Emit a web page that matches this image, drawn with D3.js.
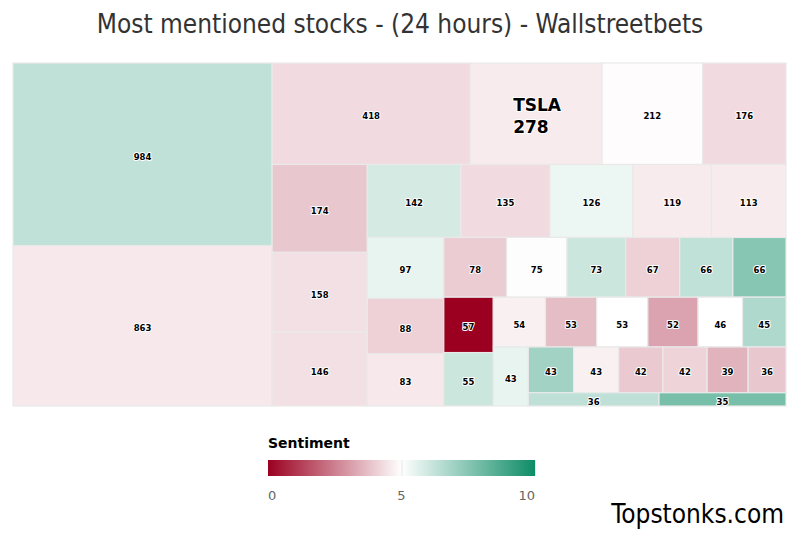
<!DOCTYPE html>
<html>
<head>
<meta charset="utf-8">
<script src="https://cdn.jsdelivr.net/npm/d3@7"></script>
<style>
  html, body { margin: 0; padding: 0; background: #fff; }
  svg { display: block; }
</style>
</head>
<body>
<svg id="chart" width="800" height="533"></svg>
<script>
// ---- data ----
const mentions  = [984, 863, 418, 278, 212, 176, 174, 158, 146, 142, 135, 126, 119, 113,
                   97, 88, 83, 78, 75, 73, 67, 66, 66, 57, 55, 54, 53, 53, 52, 46, 45,
                   43, 43, 43, 42, 42, 39, 36, 36, 35];
const sentiment = [6.3, 4.55, 4.3, 4.6, 4.95, 4.3, 3.9, 4.4, 4.4, 5.9, 4.3, 5.4, 4.6, 4.6,
                   5.5, 4.1, 4.55, 4.0, 4.97, 6.1, 4.1, 6.3, 7.5, 0.0, 6.1, 4.7, 3.7, 5.0, 3.2, 5.0, 6.65,
                   5.5, 6.95, 4.7, 3.95, 4.15, 3.5, 3.9, 6.35, 7.8];
const tickers   = ["", "", "", "TSLA"];
const legendTicks = [0, 5, 10];
const titleText = "Most mentioned stocks - (24 hours) - Wallstreetbets";
const legendTitle = "Sentiment";
const creditText = "Topstonks.com";

// ---- layout ----
const svg = d3.select("#chart");
const plot = { x: 13, y: 63, w: 773, h: 343 };

const color = d3.scaleLinear().domain([0, 5, 10]).range(["#9b0020", "#ffffff", "#0e8c66"]);

// Highcharts-like "squarified" (low aspect ratio, alternating direction) tiling
function hcSquarified(parent, x0, y0, x1, y1) {
  const children = parent.children;
  const W = x1 - x0, H = y1 - y0;
  const total = d3.sum(children, c => c.value);
  const plotPos = { x: x0, y: y0 };
  const ar = (w, h) => Math.max(w / h, h / w);
  const g = { height: H, width: W, direction: 0, total: 0, nW: 0, lW: 0, nH: 0, lH: 0, elArr: [],
              lP: { total: 0, lH: 0, nH: 0, lW: 0, nW: 0, nR: 0, lR: 0 } };
  function add(el) {
    g.lP.total = g.elArr[g.elArr.length - 1];
    g.total += el;
    if (g.direction === 0) {
      g.lW = g.nW;
      g.lP.lH = g.lP.total / g.lW;
      g.lP.lR = ar(g.lW, g.lP.lH);
      g.nW = g.total / g.height;
      g.lP.nH = g.lP.total / g.nW;
      g.lP.nR = ar(g.nW, g.lP.nH);
    } else {
      g.lH = g.nH;
      g.lP.lW = g.lP.total / g.lH;
      g.lP.lR = ar(g.lP.lW, g.lH);
      g.nH = g.total / g.width;
      g.lP.nW = g.lP.total / g.nH;
      g.lP.nR = ar(g.lP.nW, g.nH);
    }
    g.elArr.push(el);
  }
  const rects = [];
  function calc(last) {
    let gW = g.lW, gH = g.lH, pTot;
    if (last) { gW = g.nW; gH = g.nH; } else { pTot = g.elArr[g.elArr.length - 1]; }
    const end = g.elArr.length - 1;
    g.elArr.forEach((p, i) => {
      if (last || i < end) {
        let pW, pH;
        if (g.direction === 0) { pW = gW; pH = p / pW; } else { pH = gH; pW = p / pH; }
        rects.push({ x: plotPos.x, y: plotPos.y, w: pW, h: pH });
        if (g.direction === 0) plotPos.y += pH; else plotPos.x += pW;
      }
    });
    g.nW = 0; g.lW = 0; g.elArr = []; g.total = 0;
    if (g.direction === 0) g.width -= gW; else g.height -= gH;
    plotPos.y = y0 + (H - g.height);
    plotPos.x = x0 + (W - g.width);
    g.direction = 1 - g.direction;
    if (!last) add(pTot);
  }
  children.forEach((c, i) => {
    add(c.value / total * W * H);
    if (g.lP.nR > g.lP.lR) calc(false);
    if (i === children.length - 1) calc(true);
  });
  children.forEach((c, i) => {
    const r = rects[i];
    c.x0 = r.x; c.y0 = r.y; c.x1 = r.x + r.w; c.y1 = r.y + r.h;
  });
}

const items = mentions.map((v, i) => ({ value: v, sentiment: sentiment[i], name: tickers[i] || "" }));
const root = d3.hierarchy({ children: items }).sum(d => d.value || 0);
d3.treemap().size([plot.w, plot.h]).tile(hcSquarified)(root);

// title
svg.append("text")
  .attr("x", 400).attr("y", 33)
  .attr("text-anchor", "middle")
  .attr("font-family", "DejaVu Sans Condensed, DejaVu Sans, sans-serif")
  .attr("font-stretch", "condensed")
  .attr("font-size", 26)
  .attr("fill", "#333333")
  .text(titleText);

const gPlot = svg.append("g").attr("transform", `translate(${plot.x},${plot.y})`);
const cells = gPlot.selectAll("g.cell").data(root.leaves()).join("g").attr("class", "cell");

cells.append("rect")
  .attr("x", d => d.x0).attr("y", d => d.y0)
  .attr("width", d => d.x1 - d.x0).attr("height", d => d.y1 - d.y0)
  .attr("fill", d => color(d.data.sentiment))
  .attr("stroke", "#e9e9e9").attr("stroke-width", 1.2);

cells.each(function (d) {
  const cx = (d.x0 + d.x1) / 2, cy = (d.y0 + d.y1) / 2;
  const sel = d3.select(this);
  if (d.data.name) {
    const t = sel.append("text")
      .attr("font-family", "DejaVu Sans, sans-serif")
      .attr("font-weight", "bold").attr("font-size", 17)
      .attr("fill", "#000")
      .attr("stroke", "#fff").attr("stroke-width", 2).attr("stroke-linejoin", "round")
      .attr("paint-order", "stroke");
    t.append("tspan").attr("x", cx - 23).attr("y", cy - 3).text(d.data.name);
    t.append("tspan").attr("x", cx - 23).attr("y", cy + 19).text(d.data.value);
  } else {
    sel.append("text")
      .attr("x", cx).attr("y", cy + 5.5)
      .attr("text-anchor", "middle")
      .attr("font-family", "DejaVu Sans, sans-serif")
      .attr("font-weight", "bold").attr("font-size", 8.5)
      .attr("fill", "#000")
      .attr("stroke", "#fff").attr("stroke-width", 2).attr("stroke-linejoin", "round")
      .attr("paint-order", "stroke")
      .text(d.data.value);
  }
});

// legend
const lg = { x: 268, y: 460, w: 267, h: 16 };
const defs = svg.append("defs");
const grad = defs.append("linearGradient").attr("id", "sentGrad").attr("x1", "0%").attr("x2", "100%");
legendTicks.forEach(t => {
  grad.append("stop").attr("offset", (t / 10 * 100) + "%").attr("stop-color", color(t));
});
svg.append("text")
  .attr("x", lg.x).attr("y", 448)
  .attr("font-family", "DejaVu Sans, sans-serif")
  .attr("font-weight", "bold").attr("font-size", 14)
  .attr("fill", "#000")
  .text(legendTitle);
svg.append("rect")
  .attr("x", lg.x).attr("y", lg.y).attr("width", lg.w).attr("height", lg.h)
  .attr("fill", "url(#sentGrad)");
const lx = d3.scaleLinear().domain([0, 10]).range([lg.x, lg.x + lg.w]);
svg.selectAll("line.lgtick").data(legendTicks.slice(1)).join("line")
  .attr("class", "lgtick")
  .attr("x1", d => lx(d) + 0.5).attr("x2", d => lx(d) + 0.5)
  .attr("y1", lg.y).attr("y2", lg.y + lg.h)
  .attr("stroke", "#e6e6e6").attr("stroke-width", 1);
svg.selectAll("text.lglabel").data(legendTicks).join("text")
  .attr("class", "lglabel")
  .attr("x", d => lx(d))
  .attr("y", 500)
  .attr("text-anchor", (d, i) => i === 0 ? "start" : (i === legendTicks.length - 1 ? "end" : "middle"))
  .attr("font-family", "DejaVu Sans, sans-serif")
  .attr("font-size", 13)
  .attr("fill", "#666666")
  .text(d => d);

// credit
svg.append("text")
  .attr("x", 784).attr("y", 523)
  .attr("text-anchor", "end")
  .attr("font-family", "DejaVu Sans Condensed, DejaVu Sans, sans-serif")
  .attr("font-stretch", "condensed")
  .attr("font-size", 26)
  .attr("fill", "#000")
  .text(creditText);
</script>
</body>
</html>
